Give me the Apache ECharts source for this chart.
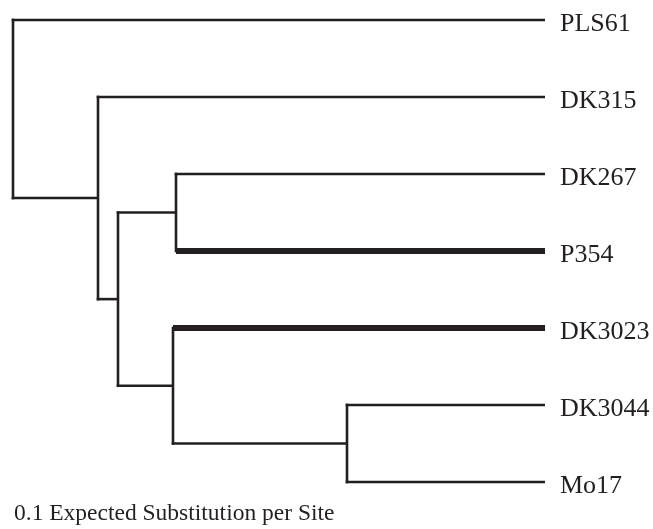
<!DOCTYPE html>
<html>
<head>
<meta charset="utf-8">
<script src="https://cdn.jsdelivr.net/npm/echarts@6/dist/echarts.min.js"></script>
<style>html,body{margin:0;padding:0;background:#fff}#c{width:653px;height:529px}</style>
</head>
<body>
<div id="c"></div>
<script>
// Internal nodes of the tree (depth = distance from the root, arbitrary units)
const internalNodes = ['root', 'n1', 'n2', 'n3', 'n4', 'n5'];
const internalParent = [null, 'root', 'n1', 'n2', 'n2', 'n4'];
const internalDepth = [0, 0.085, 0.105, 0.163, 0.160, 0.334];

// Leaves (top to bottom)
const leafNames = ['PLS61', 'DK315', 'DK267', 'P354', 'DK3023', 'DK3044', 'Mo17'];
const leafParent = ['root', 'n1', 'n3', 'n3', 'n4', 'n5', 'n5'];
const leafDepth = [0.532, 0.532, 0.532, 0.532, 0.532, 0.532, 0.532];

// Highlighted (thick) terminal branches
const thickLeaves = ['P354', 'DK3023'];

const scaleText = '0.1 Expected Substitution per Site';

// ---- layout (tree structure -> y positions) ----
const nodeY = {};
const nodeDepth = {};
const children = {};
internalNodes.forEach((n, i) => { nodeDepth[n] = internalDepth[i]; children[n] = []; });
leafNames.forEach((n, i) => { nodeDepth[n] = leafDepth[i]; nodeY[n] = i; });
internalNodes.forEach((n, i) => { if (internalParent[i]) children[internalParent[i]].push(n); });
leafNames.forEach((n, i) => { children[leafParent[i]].push(n); });
function yOf(n) {
  if (nodeY[n] !== undefined) return nodeY[n];
  const ys = children[n].map(yOf);
  nodeY[n] = (Math.min.apply(null, ys) + Math.max.apply(null, ys)) / 2;
  return nodeY[n];
}
yOf('root');

// vertical connectors: one per internal node
const verticals = internalNodes.map(n => {
  const ys = children[n].map(c => nodeY[c]);
  return { value: [nodeDepth[n], Math.min.apply(null, ys), Math.max.apply(null, ys)] };
});
// horizontal branches: one per non-root node
const branches = [];
internalNodes.forEach((n, i) => {
  const p = internalParent[i];
  if (p) branches.push({ value: [nodeDepth[p], nodeDepth[n], nodeY[n]], name: '', thick: false });
});
leafNames.forEach((n, i) => {
  const p = leafParent[i];
  branches.push({ value: [nodeDepth[p], nodeDepth[n], nodeY[n]], name: n, thick: thickLeaves.indexOf(n) >= 0 });
});

const INK = '#231f20';
const FONT = 'Liberation Serif, Times New Roman, serif';
const THIN = 2.6;
const THICK = 6;

const chart = echarts.init(document.getElementById('c'), null, { renderer: 'canvas' });
chart.setOption({
  animation: false,
  backgroundColor: '#ffffff',
  grid: { left: 13, right: 108, top: 20, bottom: 47 },
  xAxis: { type: 'value', min: 0, max: 0.532, show: false },
  yAxis: { type: 'value', min: 0, max: 6, inverse: true, show: false },
  series: [{
    type: 'custom',
    coordinateSystem: 'cartesian2d',
    clip: false,
    data: verticals,
    renderItem: function (params, api) {
      const a = api.coord([api.value(0), api.value(1)]);
      const b = api.coord([api.value(0), api.value(2)]);
      return {
        type: 'line',
        shape: { x1: a[0], y1: a[1] - THIN / 2, x2: b[0], y2: b[1] + THIN / 2 },
        style: { stroke: INK, lineWidth: THIN, lineCap: 'butt' }
      };
    }
  }, {
    type: 'custom',
    coordinateSystem: 'cartesian2d',
    clip: false,
    data: branches,
    renderItem: function (params, api) {
      const e = branches[params.dataIndex];
      const a = api.coord([api.value(0), api.value(2)]);
      const b = api.coord([api.value(1), api.value(2)]);
      const kids = [{
        type: 'line',
        shape: { x1: a[0] - (e.thick ? 0 : THIN / 2), y1: a[1], x2: b[0], y2: b[1] },
        style: { stroke: INK, lineWidth: e.thick ? THICK : THIN, lineCap: 'butt' }
      }];
      if (e.name) {
        kids.push({
          type: 'text',
          style: {
            text: e.name, x: b[0] + 15, y: b[1] + 4,
            font: '26px ' + FONT, fill: INK, verticalAlign: 'middle', align: 'left'
          }
        });
      }
      return { type: 'group', children: kids };
    }
  }],
  graphic: [{
    type: 'text',
    left: 14,
    top: 502,
    style: { text: scaleText, font: '23.5px ' + FONT, fill: INK }
  }]
});
</script>
</body>
</html>
